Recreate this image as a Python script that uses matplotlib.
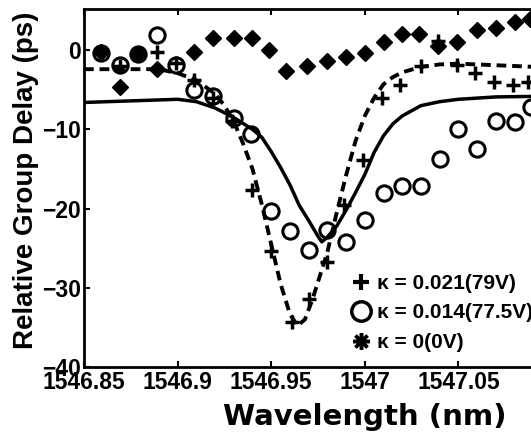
import matplotlib
matplotlib.use("Agg")
import matplotlib.pyplot as plt
from matplotlib.lines import Line2D

plt.rcParams['font.family'] = ['Liberation Sans', 'DejaVu Sans']
plt.rcParams['font.weight'] = 'bold'

# kappa = 0.021 (79V) : plus markers
x_k21 = [1546.859, 1546.869, 1546.879, 1546.889, 1546.899, 1546.909, 1546.919, 1546.929,
         1546.940, 1546.950, 1546.961, 1546.970, 1546.980, 1546.989, 1546.999, 1547.009,
         1547.019, 1547.030, 1547.039, 1547.049, 1547.059, 1547.069, 1547.079, 1547.087]
y_k21 = [-0.3, -2.0, -0.4, -0.2, -1.6, -3.8, -6.0, -9.0,
         -17.7, -25.3, -34.3, -31.4, -26.8, -19.6, -13.9, -6.1,
         -4.4, -2.0, 1.2, -1.9, -2.9, -4.0, -4.4, -4.0]

# kappa = 0.014 (77.5V) : open circles
x_k14 = [1546.859, 1546.869, 1546.879, 1546.889, 1546.899, 1546.909, 1546.919, 1546.930,
         1546.939, 1546.950, 1546.960, 1546.970, 1546.980, 1546.990, 1547.000, 1547.010,
         1547.020, 1547.030, 1547.040, 1547.050, 1547.060, 1547.070, 1547.080, 1547.089]
y_k14 = [-0.3, -1.9, -0.5, 1.9, -1.9, -5.0, -5.8, -8.5,
         -10.6, -20.3, -22.8, -25.2, -22.7, -24.2, -21.5, -18.0,
         -17.2, -17.1, -13.7, -9.9, -12.5, -9.0, -9.1, -7.2]

# kappa = 0 (0V) : filled diamonds
x_k0 = [1546.859, 1546.869, 1546.879, 1546.889, 1546.909, 1546.919, 1546.930, 1546.940,
        1546.949, 1546.958, 1546.969, 1546.980, 1546.990, 1547.000, 1547.010, 1547.020,
        1547.029, 1547.039, 1547.049, 1547.060, 1547.070, 1547.080, 1547.088]
y_k0 = [-0.2, -4.7, -0.5, -2.4, -0.2, 1.6, 1.6, 1.6,
        0.0, -2.6, -2.0, -1.4, -0.8, -0.3, 1.0, 2.1,
        2.1, 0.5, 1.0, 2.6, 2.8, 3.5, 4.0]

# fitted curve for kappa = 0.021 (dashed)
x_fit21 = [1546.850, 1546.890, 1546.900, 1546.910, 1546.920, 1546.925, 1546.930, 1546.935,
           1546.940, 1546.945, 1546.950, 1546.955, 1546.960, 1546.964, 1546.968, 1546.972,
           1546.976, 1546.980, 1546.985, 1546.990, 1546.995, 1547.000, 1547.005, 1547.010,
           1547.015, 1547.020, 1547.030, 1547.040, 1547.050, 1547.070, 1547.100]
y_fit21 = [-2.4, -2.4, -2.9, -3.8, -5.5, -7.0, -9.0, -11.8,
           -15.0, -19.5, -24.5, -29.5, -33.3, -34.8, -34.0, -31.5,
           -28.5, -25.5, -20.5, -15.8, -11.5, -8.3, -6.0, -4.3,
           -3.4, -2.8, -2.1, -1.8, -1.7, -1.9, -2.2]

# fitted curve for kappa = 0.014 (solid)
x_fit14 = [1546.850, 1546.900, 1546.910, 1546.920, 1546.930, 1546.940, 1546.945, 1546.950,
           1546.955, 1546.960, 1546.965, 1546.970, 1546.975, 1546.977, 1546.980, 1546.985,
           1546.990, 1546.995, 1547.000, 1547.005, 1547.010, 1547.015, 1547.020, 1547.030,
           1547.040, 1547.050, 1547.070, 1547.100]
y_fit14 = [-6.6, -6.2, -6.5, -7.3, -8.5, -10.0, -11.0, -12.8,
           -14.8, -17.0, -19.6, -21.5, -23.5, -24.2, -23.6, -22.2,
           -20.2, -18.0, -15.7, -12.9, -10.8, -9.3, -8.3, -7.0,
           -6.5, -6.2, -5.9, -5.8]

labels = ['\u03ba = 0.021(79V)', '\u03ba = 0.014(77.5V)', '\u03ba = 0(0V)']
x_ticks = [1546.85, 1546.9, 1546.95, 1547.0, 1547.05]
x_tick_labels = ['1546.85', '1546.9', '1546.95', '1547', '1547.05']
y_ticks = [0, -10, -20, -30, -40]

W, H = 531, 433
fig = plt.figure(figsize=(W / 100, H / 100), dpi=100)
ax = fig.add_axes([84 / W, 1 - 367 / H, 468 / W, 358 / H])

ax.plot(x_k0, y_k0, linestyle='none', marker='D', ms=8.5, color='black', mew=1)
ax.plot(x_k14, y_k14, linestyle='none', marker='o', ms=11, mfc='none', mec='black', mew=2.2)
ax.plot(x_k21, y_k21, linestyle='none', marker='+', ms=10, color='black', mew=2.5)
ax.plot(x_fit14, y_fit14, '-', color='black', lw=2.5)
ax.plot(x_fit21, y_fit21, color='black', lw=2.8, linestyle=(0, (2.5, 1.5)))

ax.set_xlim(1546.85, 1547.10)
ax.set_ylim(-40, 5.2)
ax.set_xticks(x_ticks)
ax.set_xticklabels(x_tick_labels)
ax.set_yticks(y_ticks)
ax.tick_params(direction='in', top=True, length=4, width=1.5, labelsize=16.5, pad=2)
ax.tick_params(axis='x', pad=3)
for s in ax.spines.values():
    s.set_linewidth(2)

ax.set_xlabel('Wavelength (nm)', fontsize=21, fontweight='bold', va='center',
              family=['DejaVu Sans'])
ax.xaxis.set_label_coords((365 - 84) / 468, (367 - 417) / 358)
ax.set_ylabel('Relative Group Delay (ps)', fontsize=20, fontweight='bold', va='center')
ax.yaxis.set_label_coords((26 - 84) / 468, (367 - 180) / 358)

handles = [
    Line2D([], [], linestyle='none', marker='+', ms=12, mew=3, color='black'),
    Line2D([], [], linestyle='none', marker='o', ms=14, mfc='none', mec='black', mew=2.5),
    Line2D([], [], linestyle='none', marker=(8, 2, 0), ms=12, mew=2.5, color='black'),
]
leg = ax.legend(handles, labels, loc='upper left', bbox_to_anchor=(352 / W, 1 - 274 / H),
                bbox_transform=fig.transFigure, frameon=False, handlelength=0.9,
                handletextpad=0.3, labelspacing=0.5, borderpad=0, borderaxespad=0,
                prop={'size': 15, 'weight': 'bold'})

fig.savefig('out.png', dpi=100)
